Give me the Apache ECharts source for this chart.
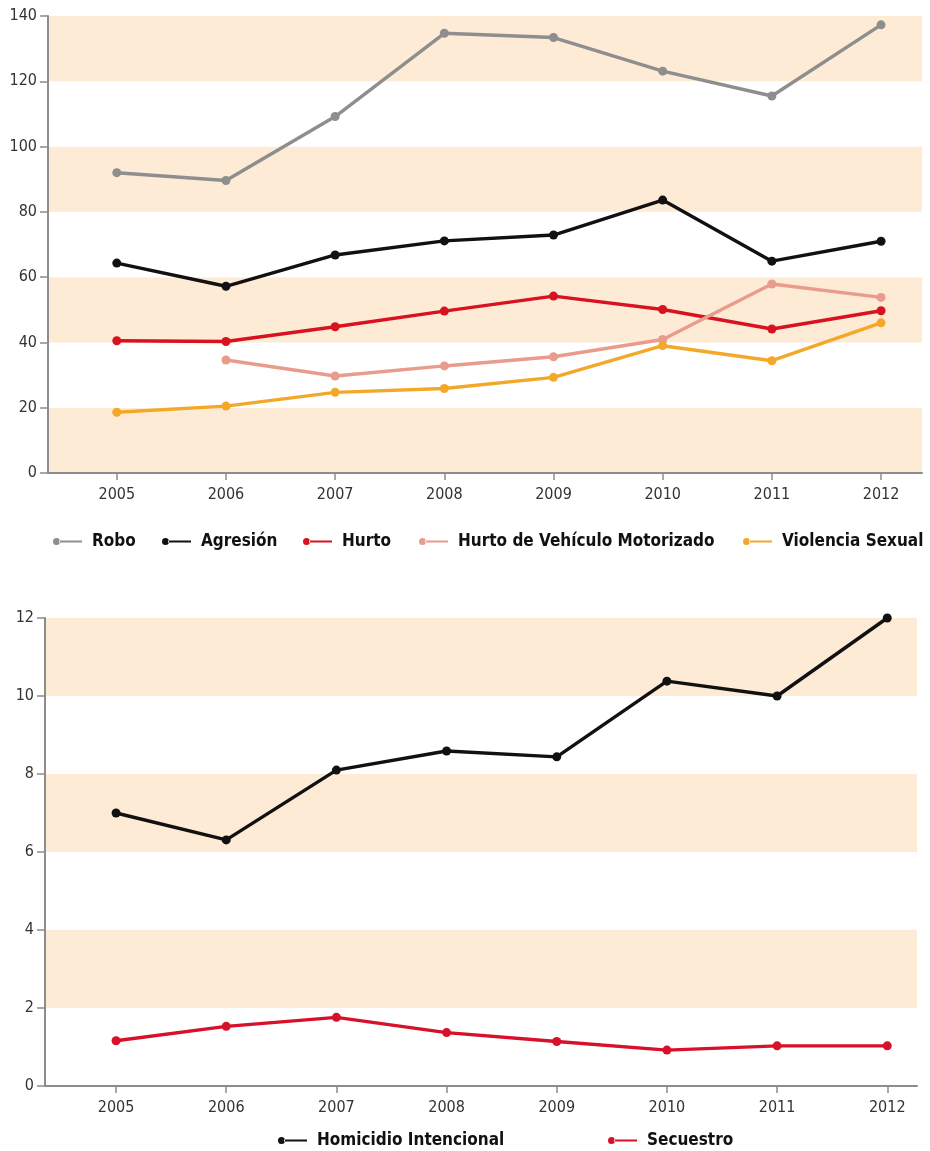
<!DOCTYPE html>
<html><head><meta charset="utf-8">
<script src="https://cdn.jsdelivr.net/npm/echarts@6/dist/echarts.min.js"></script>
<style>html,body{margin:0;padding:0;background:#fff}#c{width:930px;height:1151px}</style>
</head><body><div id="c"></div>
<script>
const years = [2005, 2006, 2007, 2008, 2009, 2010, 2011, 2012];
const robo = [92, 89.6, 109.2, 134.7, 133.4, 123.1, 115.5, 137.3];
const agresion = [64.3, 57.2, 66.8, 71.1, 72.9, 83.6, 64.9, 71.0];
const hurto = [40.5, 40.3, 44.8, 49.6, 54.2, 50.1, 44.1, 49.7];
const hurtoVehiculo = [null, 34.6, 29.7, 32.8, 35.6, 40.9, 57.9, 53.8];
const violenciaSexual = [18.6, 20.5, 24.7, 25.9, 29.3, 39.0, 34.4, 46.0];
const homicidio = [7.0, 6.31, 8.1, 8.59, 8.44, 10.38, 10.0, 12.0];
const secuestro = [1.16, 1.53, 1.76, 1.37, 1.14, 0.92, 1.03, 1.03];
const topAxis = { min: 0, max: 140, interval: 20 };
const bottomAxis = { min: 0, max: 12, interval: 2 };

const FONT = "'DejaVu Sans Condensed','Liberation Sans Narrow',sans-serif";
const BAND = '#fdebd6';
const AXIS = '#8c8c8c';
const ICON = 'path://M0,3.5a3.5,3.5 0 1,0 7,0a3.5,3.5 0 1,0 -7,0z M6,2.6h23v1.8h-23z';

function pairs(vals) {
  const out = [];
  vals.forEach((v, i) => { if (v !== null) out.push([years[i], v]); });
  return out;
}

const topSeries = [
  { name: 'Robo', data: robo, color: '#8e8e8e' },
  { name: 'Agresión', data: agresion, color: '#111111' },
  { name: 'Hurto', data: hurto, color: '#d8121f' },
  { name: 'Hurto de Vehículo Motorizado', data: hurtoVehiculo, color: '#e99c8c' },
  { name: 'Violencia Sexual', data: violenciaSexual, color: '#f4a82a' }
];
const bottomSeries = [
  { name: 'Homicidio Intencional', data: homicidio, color: '#111111' },
  { name: 'Secuestro', data: secuestro, color: '#d8102a' }
];
const topLegendLeft = [53, 162, 303, 419, 743];
const bottomLegendLeft = [278, 608];

function xAxisCfg(gridIndex, min, max) {
  return {
    type: 'value', gridIndex, min, max,
    axisLine: { show: true, lineStyle: { color: AXIS, width: 2 } },
    axisTick: { show: true, customValues: years, length: 7, lineStyle: { color: AXIS, width: 1.5 } },
    axisLabel: { customValues: years, formatter: v => String(v), margin: 14, color: '#333', fontSize: 16, fontFamily: FONT },
    splitLine: { show: false }
  };
}
function yAxisCfg(gridIndex, ax, colors) {
  return {
    type: 'value', gridIndex, min: ax.min, max: ax.max, interval: ax.interval,
    axisLine: { show: true, lineStyle: { color: AXIS, width: 2 } },
    axisTick: { show: true, length: 8, lineStyle: { color: AXIS, width: 1.5 } },
    axisLabel: { margin: 11, color: '#333', fontSize: 16, fontFamily: FONT },
    splitLine: { show: false },
    splitArea: { show: true, areaStyle: { color: colors } }
  };
}
function mkSeries(s, idx) {
  return {
    type: 'line', name: s.name, xAxisIndex: idx, yAxisIndex: idx,
    data: pairs(s.data), color: s.color,
    symbol: 'circle', symbolSize: 9,
    lineStyle: { width: 3.4, color: s.color },
    itemStyle: { color: s.color },
    z: 3
  };
}
function mkLegend(name, left, top) {
  return {
    data: [name], left, top, padding: 0, selectedMode: false,
    icon: ICON, itemWidth: 29, itemHeight: 7,
    textStyle: { fontFamily: FONT, fontWeight: 'bold', fontSize: 17, color: '#111', padding: [0, 0, 0, 5] }
  };
}

const chart = echarts.init(document.getElementById('c'), null, { renderer: 'canvas' });
chart.setOption({
  animation: false,
  backgroundColor: '#fff',
  grid: [
    { left: 48, right: 8, top: 16, height: 457 },
    { left: 45, right: 13, top: 618, height: 468 }
  ],
  xAxis: [xAxisCfg(0, 2004.37, 2012.375), xAxisCfg(1, 2004.355, 2012.27)],
  yAxis: [yAxisCfg(0, topAxis, [BAND, '#ffffff']), yAxisCfg(1, bottomAxis, ['#ffffff', BAND])],
  legend: topSeries.map((s, i) => mkLegend(s.name, topLegendLeft[i], 533))
    .concat(bottomSeries.map((s, i) => mkLegend(s.name, bottomLegendLeft[i], 1132))),
  series: topSeries.map(s => mkSeries(s, 0)).concat(bottomSeries.map(s => mkSeries(s, 1)))
});
</script></body></html>
